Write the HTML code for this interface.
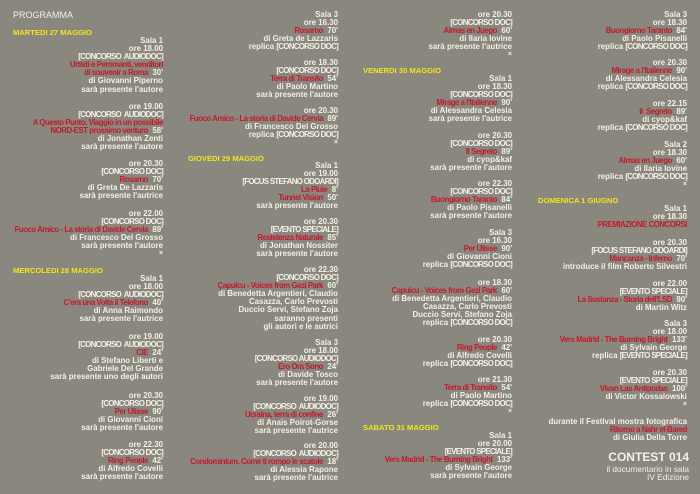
<!DOCTYPE html>
<html><head><meta charset="utf-8">
<style>
body{margin:0;padding:0;background:#8a877f;}
#p{position:relative;width:700px;height:494px;background:#8a877f;overflow:hidden;font-family:"Liberation Sans",sans-serif;font-weight:bold;font-size:7.9px;color:#f4f0e6;}
.b{position:absolute;text-align:right;line-height:8.1px;white-space:nowrap;}
.c1{right:537px}.c2{right:362px}.c3{right:188px}.c4{right:13px}
.r{color:#c41a2a;letter-spacing:-0.45px;font-size:7.8px}
.t{letter-spacing:-0.7px}
.d{position:absolute;color:#f2e51c;line-height:8px;white-space:nowrap;font-size:7.6px}
.x{font-size:7px}
</style></head><body><div id="p">
<div style="position:absolute;left:13px;top:10px;font-size:9px;font-weight:normal;line-height:10px;">PROGRAMMA</div>
<div class="d" style="left:13px;top:29px">MARTEDI 27 MAGGIO</div>
<div class="b c1" style="top:37px"><div>Sala 1</div><div>ore 18.00</div><div class="t">[CONCORSO&nbsp; AUDIODOC]</div><div><span class="r">Urtisti e Peromanti, venditori</span></div><div><span class="r">di souvenir a Roma</span>&nbsp; 30'</div><div>di Giovanni Piperno</div><div>sarà presente l'autore</div></div>
<div class="b c1" style="top:103px"><div>ore 19.00</div><div class="t">[CONCORSO&nbsp; AUDIODOC]</div><div><span class="r">A Questo Punto. Viaggio in un possibile</span></div><div><span class="r">NORD-EST prossimo venturo</span>&nbsp; 58'</div><div>di Jonathan Zenti</div><div>sarà presente l'autore</div></div>
<div class="b c1" style="top:160px"><div>ore 20.30</div><div class="t">[CONCORSO DOC]</div><div><span class="r">Rosarno</span>&nbsp; 70'</div><div>di Greta De Lazzaris</div><div>sarà presente l'autrice</div></div>
<div class="b c1" style="top:210px"><div>ore 22.00</div><div class="t">[CONCORSO DOC]</div><div><span class="r">Fuoco Amico - La storia di Davide Cervia</span>&nbsp; 89'</div><div>di Francesco Del Grosso</div><div>sarà presente l'autore</div><div class="x">×</div></div>
<div class="d" style="left:13px;top:267px">MERCOLEDI 28 MAGGIO</div>
<div class="b c1" style="top:275px"><div>Sala 1</div><div>ore 18.00</div><div class="t">[CONCORSO&nbsp; AUDIODOC]</div><div><span class="r">C'era una Volta il Telefono</span>&nbsp; 40'</div><div>di Anna Raimondo</div><div>sarà presente l'autrice</div></div>
<div class="b c1" style="top:333px"><div>ore 19.00</div><div class="t">[CONCORSO&nbsp; AUDIODOC]</div><div><span class="r">CIE</span>&nbsp; 24'</div><div>di Stefano Liberti e</div><div>Gabriele Del Grande</div><div>sarà presente uno degli autori</div></div>
<div class="b c1" style="top:392px"><div>ore 20.30</div><div class="t">[CONCORSO DOC]</div><div><span class="r">Per Ulisse</span>&nbsp; 90'</div><div>di Giovanni Cioni</div><div>sarà presente l'autore</div></div>
<div class="b c1" style="top:441px"><div>ore 22.30</div><div class="t">[CONCORSO DOC]</div><div><span class="r">Ring People</span>&nbsp; 42'</div><div>di Alfredo Covelli</div><div>sarà presente l'autore</div></div>

<div class="b c2" style="top:11px"><div>Sala 3</div><div>ore 16.30</div><div><span class="r">Rosarno</span>&nbsp; 70'</div><div>di Greta de Lazzaris</div><div>replica <span class="t">[CONCORSO DOC]</span></div></div>
<div class="b c2" style="top:59px"><div>ore 18.30</div><div class="t">[CONCORSO DOC]</div><div><span class="r">Terra di Transito</span>&nbsp; 54'</div><div>di Paolo Martino</div><div>sarà presente l'autore</div></div>
<div class="b c2" style="top:107px"><div>ore 20.30</div><div><span class="r">Fuoco Amico - La storia di Davide Cervia</span>&nbsp; 89'</div><div>di Francesco Del Grosso</div><div>replica <span class="t">[CONCORSO DOC]</span></div><div class="x">×</div></div>
<div class="d" style="left:188px;top:155px">GIOVEDI 29 MAGGIO</div>
<div class="b c2" style="top:162px"><div>Sala 1</div><div>ore 19.00</div><div class="t">[FOCUS STEFANO ODOARDI]</div><div><span class="r">La Pluie</span>&nbsp; 8'</div><div><span class="r">Tunnel Vision</span>&nbsp; 50'</div><div>sarà presente l'autore</div></div>
<div class="b c2" style="top:218px"><div>ore 20.30</div><div class="t">[EVENTO SPECIALE]</div><div><span class="r">Resistenza Naturale</span>&nbsp; 85'</div><div>di Jonathan Nossiter</div><div>sarà presente l'autore</div></div>
<div class="b c2" style="top:266px"><div>ore 22.30</div><div class="t">[CONCORSO DOC]</div><div><span class="r">Çapulcu - Voices from Gezi Park</span>&nbsp; 60'</div><div>di Benedetta Argentieri, Claudio</div><div>Casazza, Carlo Prevosti</div><div>Duccio Servi, Stefano Zoja</div><div>saranno presenti</div><div>gli autori e le autrici</div></div>
<div class="b c2" style="top:339px"><div>Sala 3</div><div>ore 18.00</div><div class="t">[CONCORSO AUDIODOC]</div><div><span class="r">Ero Ora Sono</span>&nbsp; 24'</div><div>di Davide Tosco</div><div>sarà presente l'autore</div></div>
<div class="b c2" style="top:395px"><div>ore 19.00</div><div class="t">[CONCORSO&nbsp; AUDIODOC]</div><div><span class="r">Ucraina, terra di confine</span>&nbsp; 26'</div><div>di Anais Poirot-Gorse</div><div>sarà presente l'autrice</div></div>
<div class="b c2" style="top:442px"><div>ore 20.00</div><div class="t">[CONCORSO&nbsp; AUDIODOC]</div><div><span class="r">Condominium. Come ti rompo le scatole</span>&nbsp; 18'</div><div>di Alessia Rapone</div><div>sarà presente l'autrice</div></div>

<div class="b c3" style="top:11px"><div>ore 20.30</div><div class="t">[CONCORSO DOC]</div><div><span class="r">Almas en Juego</span>&nbsp; 60'</div><div>di Ilaria Iovine</div><div>sarà presente l'autrice</div><div class="x">×</div></div>
<div class="d" style="left:363px;top:67px">VENERDI 30 MAGGIO</div>
<div class="b c3" style="top:75px"><div>Sala 1</div><div>ore 18.30</div><div class="t">[CONCORSO DOC]</div><div><span class="r">Mirage a l'Italienne</span>&nbsp; 90'</div><div>di Alessandra Celesia</div><div>sarà presente l'autrice</div></div>
<div class="b c3" style="top:132px"><div>ore 20.30</div><div class="t">[CONCORSO DOC]</div><div><span class="r">Il Segreto</span>&nbsp; 89'</div><div>di cyop&amp;kaf</div><div>sarà presente l'autore</div></div>
<div class="b c3" style="top:180px"><div>ore 22.30</div><div class="t">[CONCORSO DOC]</div><div><span class="r">Buongiorno Taranto</span>&nbsp; 84'</div><div>di Paolo Pisanelli</div><div>sarà presente l'autore</div></div>
<div class="b c3" style="top:229px"><div>Sala 3</div><div>ore 16.30</div><div><span class="r">Per Ulisse</span>&nbsp; 90'</div><div>di Giovanni Cioni</div><div>replica <span class="t">[CONCORSO DOC]</span></div></div>
<div class="b c3" style="top:279px"><div>ore 18.30</div><div><span class="r">Çapulcu - Voices from Gezi Park</span>&nbsp; 60'</div><div>di Benedetta Argentieri, Claudio</div><div>Casazza, Carlo Prevosti</div><div>Duccio Servi, Stefano Zoja</div><div>replica <span class="t">[CONCORSO DOC]</span></div></div>
<div class="b c3" style="top:336px"><div>ore 20.30</div><div><span class="r">Ring People</span>&nbsp; 42'</div><div>di Alfredo Covelli</div><div>replica <span class="t">[CONCORSO DOC]</span></div></div>
<div class="b c3" style="top:376px"><div>ore 21.30</div><div><span class="r">Terra di Transito</span>&nbsp; 54'</div><div>di Paolo Martino</div><div>replica <span class="t">[CONCORSO DOC]</span></div><div class="x">×</div></div>
<div class="d" style="left:363px;top:424px">SABATO 31 MAGGIO</div>
<div class="b c3" style="top:432px"><div>Sala 1</div><div>ore 20.00</div><div class="t">[EVENTO SPECIALE]</div><div><span class="r">Vers Madrid - The Burning Bright</span>&nbsp; 133'</div><div>di Sylvain George</div><div>sarà presente l'autore</div></div>

<div class="b c4" style="top:11px"><div>Sala 3</div><div>ore 18.30</div><div><span class="r">Buongiorno Taranto</span>&nbsp; 84'</div><div>di Paolo Pisanelli</div><div>replica <span class="t">[CONCORSO DOC]</span></div></div>
<div class="b c4" style="top:59px"><div>ore 20.30</div><div><span class="r">Mirage a l'Italienne</span>&nbsp; 90'</div><div>di Alessandra Celesia</div><div>replica <span class="t">[CONCORSO DOC]</span></div></div>
<div class="b c4" style="top:100px"><div>ore 22.15</div><div><span class="r">Il&nbsp; Segreto</span>&nbsp; 89'</div><div>di cyop&amp;kaf</div><div>replica <span class="t">[CONCORSO DOC]</span></div></div>
<div class="b c4" style="top:141px"><div>Sala 2</div><div>ore 18.30</div><div><span class="r">Almas en Juego</span>&nbsp; 60'</div><div>di Ilaria Iovine</div><div>replica <span class="t">[CONCORSO DOC]</span></div><div class="x">×</div></div>
<div class="d" style="left:538px;top:197px">DOMENICA 1 GIUGNO</div>
<div class="b c4" style="top:205px"><div>Sala 1</div><div>ore 18.30</div><div><span class="r">PREMIAZIONE CONCORSI</span></div></div>
<div class="b c4" style="top:239px"><div>ore 20.30</div><div class="t">[FOCUS STEFANO ODOARDI]</div><div><span class="r">Mancanza - Inferno</span>&nbsp; 70'</div><div>introduce il film Roberto Silvestri</div></div>
<div class="b c4" style="top:280px"><div>ore 22.00</div><div class="t">[EVENTO SPECIALE]</div><div><span class="r">La Sostanza - Storia dell'LSD</span>&nbsp; 90'</div><div>di Martin Witz</div></div>
<div class="b c4" style="top:320px"><div>Sala 3</div><div>ore 18.00</div><div><span class="r">Vers Madrid - The Burning Bright</span>&nbsp; 133'</div><div>di Sylvain George</div><div>replica <span class="t">[EVENTO SPECIALE]</span></div></div>
<div class="b c4" style="top:369px"><div>ore 20.30</div><div class="t">[EVENTO SPECIALE]</div><div><span class="r">Vivan Las Antipodas</span>&nbsp; 100'</div><div>di Victor Kossalowski</div><div class="x">×</div></div>
<div class="b c4" style="top:418px"><div>durante il Festival mostra fotografica</div><div><span class="r">Ritorno a Nahr el-Bared</span></div><div>di Giulia Della Torre</div></div>
<div class="b" style="right:11px;top:451px;font-size:12px;line-height:13px;">CONTEST 014</div>
<div class="b" style="right:11px;top:466px;font-size:8.3px;font-weight:normal;line-height:7.6px;"><div>il documentario in sala</div><div>IV Edizione</div></div>
</div></body></html>
